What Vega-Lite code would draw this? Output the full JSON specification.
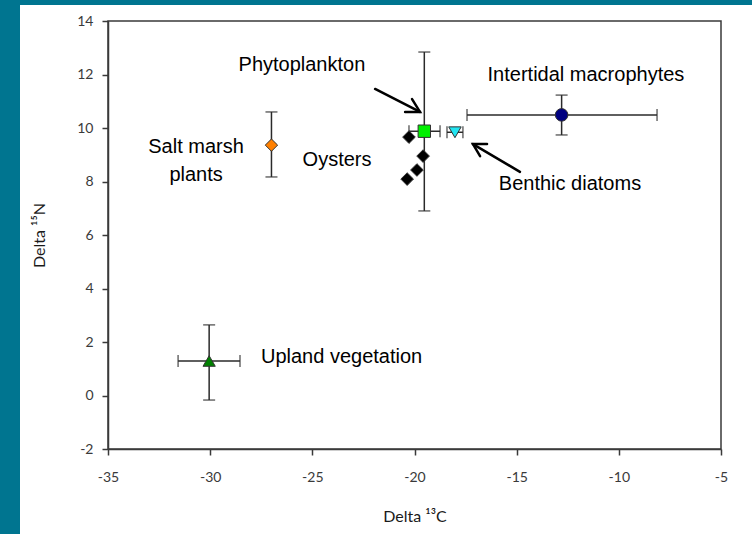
{
  "$schema": "https://vega.github.io/schema/vega-lite/v6.json",
  "background": "white",
  "padding": 0,
  "spacing": 0,
  "bounds": "flush",
  "align": "each",
  "columns": 3,
  "config": {
    "view": {"stroke": null},
    "axis": {
      "grid": false,
      "labelFont": "Lato",
      "labelFontSize": 14,
      "labelColor": "#3a3a3a",
      "labelFlush": false,
      "labelOverlap": false,
      "titleFont": "Lato",
      "titleFontSize": 16,
      "titleFontWeight": "normal",
      "titleColor": "#1a1a1a",
      "domainColor": "#3a3a3a",
      "domainWidth": 1.5,
      "tickColor": "#3a3a3a",
      "tickWidth": 1.5,
      "tickSize": 6,
      "labelExpr": "toString(datum.value)"
    },
    "axisX": {"labelPadding": 15, "titlePadding": 24},
    "axisY": {"labelPadding": 9, "titlePadding": 29}
  },
  "datasets": {
    "points": [
      {"group": "Upland vegetation", "c": -30.05, "n": 1.29},
      {"group": "Salt marsh plants", "c": -27.0, "n": 9.36},
      {"group": "Phytoplankton", "c": -19.52, "n": 9.88},
      {"group": "Benthic diatoms", "c": -18.02, "n": 9.84},
      {"group": "Intertidal macrophytes", "c": -12.8, "n": 10.49},
      {"group": "Oysters", "c": -20.27, "n": 9.66},
      {"group": "Oysters", "c": -19.58, "n": 8.95},
      {"group": "Oysters", "c": -19.88, "n": 8.43},
      {"group": "Oysters", "c": -20.36, "n": 8.09}
    ],
    "vbars": [
      {"group": "Upland vegetation", "c": -30.05, "nlo": -0.17, "nhi": 2.64},
      {"group": "Salt marsh plants", "c": -27.0, "nlo": 8.17, "nhi": 10.6},
      {"group": "Phytoplankton", "c": -19.52, "nlo": 6.9, "nhi": 12.84},
      {"group": "Intertidal macrophytes", "c": -12.8, "nlo": 9.74, "nhi": 11.23}
    ],
    "hbars": [
      {"group": "Upland vegetation", "n": 1.29, "clo": -31.57, "chi": -28.54},
      {"group": "Phytoplankton", "n": 9.88, "clo": -20.27, "chi": -18.75},
      {"group": "Benthic diatoms", "n": 9.84, "clo": -18.41, "chi": -17.63},
      {"group": "Intertidal macrophytes", "n": 10.49, "clo": -17.43, "chi": -8.13}
    ],
    "labels": [
      {"label": "Phytoplankton", "c": -25.51, "n": 12.36},
      {"label": "Intertidal macrophytes", "c": -11.61, "n": 11.98},
      {"label": "Salt marsh\nplants", "c": -30.69, "n": 9.29},
      {"label": "Oysters", "c": -23.79, "n": 8.8},
      {"label": "Benthic diatoms", "c": -12.39, "n": 7.91},
      {"label": "Upland vegetation", "c": -23.57, "n": 1.44}
    ],
    "arrows": [
      {"arrow": "phyto shaft", "seq": 1, "c": -21.93, "n": 11.46},
      {"arrow": "phyto shaft", "seq": 2, "c": -19.73, "n": 10.6},
      {"arrow": "phyto head", "seq": 1, "c": -20.12, "n": 11.08},
      {"arrow": "phyto head", "seq": 2, "c": -19.73, "n": 10.6},
      {"arrow": "phyto head", "seq": 3, "c": -20.46, "n": 10.6},
      {"arrow": "benthic shaft", "seq": 1, "c": -14.84, "n": 8.36},
      {"arrow": "benthic shaft", "seq": 2, "c": -17.14, "n": 9.4},
      {"arrow": "benthic head", "seq": 1, "c": -16.79, "n": 8.95},
      {"arrow": "benthic head", "seq": 2, "c": -17.14, "n": 9.4},
      {"arrow": "benthic head", "seq": 3, "c": -16.45, "n": 9.4}
    ]
  },
  "concat": [
    {
      "width": 20, "height": 21,
      "view": {"fill": "#007590", "stroke": null},
      "data": {"values": []},
      "mark": "point",
      "encoding": {}
    },
    {
      "width": 88, "height": 5,
      "view": {"fill": "#007590", "stroke": null},
      "data": {"values": []},
      "mark": "point",
      "encoding": {}
    },
    {
      "width": 644, "height": 5,
      "view": {"fill": "#007590", "stroke": null},
      "data": {"values": []},
      "mark": "point",
      "encoding": {}
    },
    {
      "width": 20, "height": 513,
      "view": {"fill": "#007590", "stroke": null},
      "data": {"values": []},
      "mark": "point",
      "encoding": {}
    },
    {
      "width": 88, "height": 1,
      "view": {"stroke": null},
      "data": {"values": []},
      "mark": "point",
      "encoding": {}
    },
    {
      "width": 613,
      "height": 428,
      "view": {"stroke": "#3a3a3a", "strokeWidth": 1.5},
      "layer": [
        {
          "data": {"name": "vbars"},
          "mark": {"type": "rule", "color": "#2a2a2a", "strokeWidth": 1.5},
          "encoding": {
            "x": {"field": "c", "type": "quantitative", "title": "Delta ¹³C",
                  "scale": {"domain": [-35, -5], "nice": false, "zero": false},
                  "axis": {"values": [-35, -30, -25, -20, -15, -10, -5]}},
            "y": {"field": "nlo", "type": "quantitative", "title": "Delta ¹⁵N",
                  "scale": {"domain": [-2, 14], "nice": false, "zero": false},
                  "axis": {"values": [-2, 0, 2, 4, 6, 8, 10, 12, 14]}},
            "y2": {"field": "nhi"}
          }
        },
        {
          "data": {"name": "vbars"},
          "mark": {"type": "tick", "orient": "horizontal", "color": "#2a2a2a", "size": 12, "thickness": 1.5},
          "encoding": {
            "x": {"field": "c", "type": "quantitative", "title": "Delta ¹³C"},
            "y": {"field": "nlo", "type": "quantitative", "title": "Delta ¹⁵N"}
          }
        },
        {
          "data": {"name": "vbars"},
          "mark": {"type": "tick", "orient": "horizontal", "color": "#2a2a2a", "size": 12, "thickness": 1.5},
          "encoding": {
            "x": {"field": "c", "type": "quantitative", "title": "Delta ¹³C"},
            "y": {"field": "nhi", "type": "quantitative", "title": "Delta ¹⁵N"}
          }
        },
        {
          "data": {"name": "hbars"},
          "mark": {"type": "rule", "color": "#2a2a2a", "strokeWidth": 1.5},
          "encoding": {
            "x": {"field": "clo", "type": "quantitative", "title": "Delta ¹³C"},
            "x2": {"field": "chi"},
            "y": {"field": "n", "type": "quantitative", "title": "Delta ¹⁵N"}
          }
        },
        {
          "data": {"name": "hbars"},
          "mark": {"type": "tick", "orient": "vertical", "color": "#2a2a2a", "size": 12, "thickness": 1.5},
          "encoding": {
            "x": {"field": "clo", "type": "quantitative", "title": "Delta ¹³C"},
            "y": {"field": "n", "type": "quantitative", "title": "Delta ¹⁵N"}
          }
        },
        {
          "data": {"name": "hbars"},
          "mark": {"type": "tick", "orient": "vertical", "color": "#2a2a2a", "size": 12, "thickness": 1.5},
          "encoding": {
            "x": {"field": "chi", "type": "quantitative", "title": "Delta ¹³C"},
            "y": {"field": "n", "type": "quantitative", "title": "Delta ¹⁵N"}
          }
        },
        {
          "data": {"name": "points"},
          "mark": {"type": "point", "filled": true, "opacity": 1, "stroke": "#333333", "strokeWidth": 1},
          "encoding": {
            "x": {"field": "c", "type": "quantitative", "title": "Delta ¹³C"},
            "y": {"field": "n", "type": "quantitative", "title": "Delta ¹⁵N"},
            "shape": {"field": "group", "type": "nominal", "legend": null,
              "scale": {"domain": ["Upland vegetation", "Salt marsh plants", "Phytoplankton", "Benthic diatoms", "Intertidal macrophytes", "Oysters"],
                        "range": ["triangle-up", "diamond", "square", "triangle-down", "circle", "diamond"]}},
            "color": {"field": "group", "type": "nominal", "legend": null,
              "scale": {"domain": ["Upland vegetation", "Salt marsh plants", "Phytoplankton", "Benthic diatoms", "Intertidal macrophytes", "Oysters"],
                        "range": ["#008000", "#FF8000", "#00F000", "#22E5F2", "#000080", "#000000"]}},
            "size": {"field": "group", "type": "nominal", "legend": null,
              "scale": {"domain": ["Upland vegetation", "Salt marsh plants", "Phytoplankton", "Benthic diatoms", "Intertidal macrophytes", "Oysters"],
                        "range": [150, 160, 140, 150, 170, 190]}}
          }
        },
        {
          "data": {"name": "arrows"},
          "mark": {"type": "line", "color": "#000000", "strokeWidth": 2.5, "strokeCap": "round", "strokeJoin": "miter"},
          "encoding": {
            "x": {"field": "c", "type": "quantitative", "title": "Delta ¹³C"},
            "y": {"field": "n", "type": "quantitative", "title": "Delta ¹⁵N"},
            "detail": {"field": "arrow", "type": "nominal"},
            "order": {"field": "seq", "type": "quantitative"}
          }
        },
        {
          "data": {"name": "labels"},
          "mark": {"type": "text", "font": "Liberation Sans", "fontSize": 20, "color": "#000000", "align": "center", "baseline": "middle", "lineBreak": "\n", "lineHeight": 28},
          "encoding": {
            "x": {"field": "c", "type": "quantitative", "title": "Delta ¹³C"},
            "y": {"field": "n", "type": "quantitative", "title": "Delta ¹⁵N"},
            "text": {"field": "label", "type": "nominal"}
          }
        }
      ]
    }
  ]
}
